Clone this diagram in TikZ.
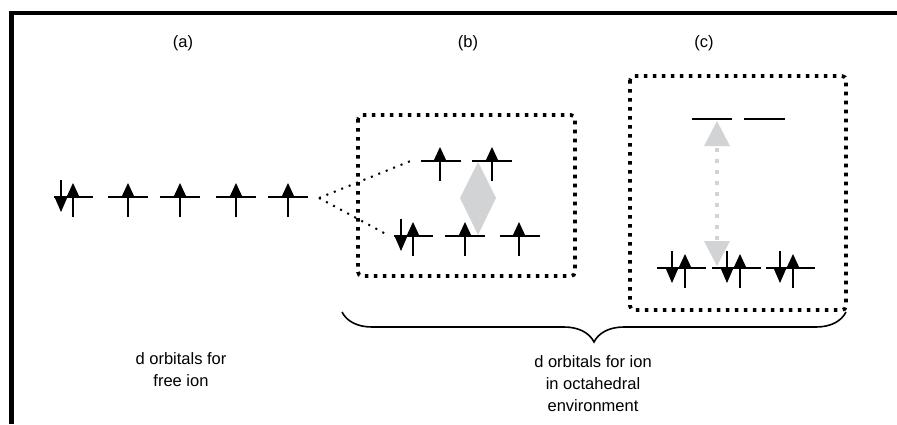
\documentclass[tikz,border=0pt]{standalone}
\usepackage{fontspec}
\setmainfont{Liberation Sans}
\usetikzlibrary{decorations.pathreplacing}
\definecolor{lgray}{HTML}{D1D3D4}
\tikzset{
  orbline/.style={line width=1.4pt},
  shaft/.style={line width=1.4pt},
  dotbox/.style={line width=3.6pt, dash pattern=on 3.6pt off 5.4pt, rounded corners=4pt},
  dotconn/.style={line width=2pt, dash pattern=on 2pt off 6pt},
  lbl/.style={font=\fontsize{16.5}{22}\selectfont, align=center, inner sep=0pt},
}
\newcommand\olevel[3]{\draw[orbline] (#1,#3) -- (#2,#3);}
\newcommand\spinup[2]{%
  \draw[shaft] (#1,#2+20) -- (#1,#2);
  \fill (#1-6.5,#2) -- (#1+6.5,#2) -- (#1,#2-14) -- cycle;}
\newcommand\spindn[2]{%
  \draw[shaft] (#1,#2-17) -- (#1,#2);
  \fill (#1-6.5,#2) -- (#1+6.5,#2) -- (#1,#2+15) -- cycle;}
\begin{document}
\begin{tikzpicture}[x=1pt,y=-1pt]
\useasboundingbox (0,0) rectangle (897,424);
% frame
\draw[line width=4.5pt] (11.5,424) -- (11.5,13) -- (897,13);
% labels
\node[lbl] (la) at (183,43) {(a)};
\node[lbl] (lb) at (468,43) {(b)};
\node[lbl] (lc) at (704,43) {(c)};
% (a) free ion
\olevel{54}{93}{197}\spindn{61}{197}\spinup{73}{197}
\olevel{108}{148}{197}\spinup{128}{197}
\olevel{160}{200}{197}\spinup{180}{197}
\olevel{216}{256}{197}\spinup{236}{197}
\olevel{268}{308}{197}\spinup{288}{197}
\coordinate (a5) at (319,198);
% (b) box
\draw[dotbox] (358,115) rectangle (575,276);
\fill[lgray] (478,162) -- (496,198) -- (478,235) -- (460,198) -- cycle;
\olevel{421}{461}{161}\spinup{440}{161}
\olevel{472}{512}{161}\spinup{492}{161}
\olevel{394}{433}{236}\spindn{401}{236}\spinup{413}{236}
\olevel{445}{485}{236}\spinup{465}{236}
\olevel{500}{540}{236}\spinup{519}{236}
\coordinate (bU) at (413,160);
\coordinate (bL) at (386,234);
\draw[dotconn] (a5) -- (bU);
\draw[dotconn] (a5) -- (bL);
% (c) box
\draw[dotbox] (630,76) rectangle (846,310);
\olevel{692}{732}{119}
\olevel{744}{785}{119}
\draw[lgray, line width=4pt, dash pattern=on 4pt off 7pt] (717,148) -- (717,240);
\fill[lgray] (704,146) -- (730,146) -- (717,121) -- cycle;
\fill[lgray] (704,241) -- (730,241) -- (717,266) -- cycle;
\olevel{657}{706}{268}\spindn{672}{268}\spinup{685}{268}
\olevel{712}{761}{268}\spindn{727}{268}\spinup{740}{268}
\olevel{766}{815}{268}\spindn{780}{268}\spinup{793}{268}
% brace
\coordinate (brL) at (342,312);
\coordinate (brR) at (846,312);
\draw[line width=1.6pt, decorate, decoration={brace, mirror, amplitude=30pt}] (brL) -- (brR);
% captions
\node[lbl] (ta) at (181,370) {d orbitals for\\free ion};
\node[lbl] (tb) at (593,384) {d orbitals for ion\\in octahedral\\environment};
\end{tikzpicture}
\end{document}
